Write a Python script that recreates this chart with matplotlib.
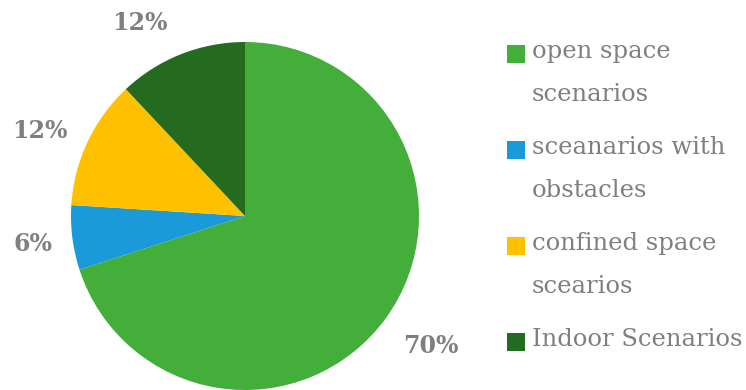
import matplotlib
matplotlib.use("Agg")
import matplotlib.pyplot as plt
from matplotlib.patches import Rectangle

categories = ["open space\nscenarios", "sceanarios with\nobstacles",
              "confined space\nscearios", "Indoor Scenarios"]
values = [70, 6, 12, 12]
colors = ["#43AE3A", "#1A9AD9", "#FFC000", "#246B20"]
text_gray = "#7F7F7F"

plt.rcParams['font.family'] = ['DejaVu Serif']

fig = plt.figure(figsize=(7.46, 3.90), dpi=100)
ax = fig.add_axes([71/746, 0.0, 348/746, 348/390])
wedges, texts, autotexts = ax.pie(
    values, colors=colors, startangle=90, counterclock=False,
    autopct=lambda p: f"{p:.0f}%", pctdistance=1.27,
    wedgeprops=dict(linewidth=0), radius=1.0)
label_shift = [(0.04, 0.0), (0.04, 0.0), (-0.03, -0.05), (-0.138, -0.069)]
for t, (dx, dy) in zip(autotexts, label_shift):
    x, y = t.get_position()
    t.set_position((x + dx, y + dy))
    t.set_color(text_gray)
    t.set_fontsize(17)
    t.set_fontweight('bold')
ax.set_xlim(-1, 1)
ax.set_ylim(-1, 1)
ax.set_aspect('equal')
ax.axis('off')

# legend drawn manually
W, H = 746, 390
sq_top = [45, 141, 237, 333]
for cat, col, y in zip(categories, colors, sq_top):
    fig.patches.append(Rectangle((507/W, 1 - (y + 18)/H), 18/W, 18/H,
                                 transform=fig.transFigure, facecolor=col,
                                 edgecolor='none'))
    fig.text(532/W, 1 - (y - 5)/H, cat, color=text_gray, fontsize=17.5,
             va='top', ha='left', linespacing=2.1)

fig.savefig("out.png", dpi=100)
